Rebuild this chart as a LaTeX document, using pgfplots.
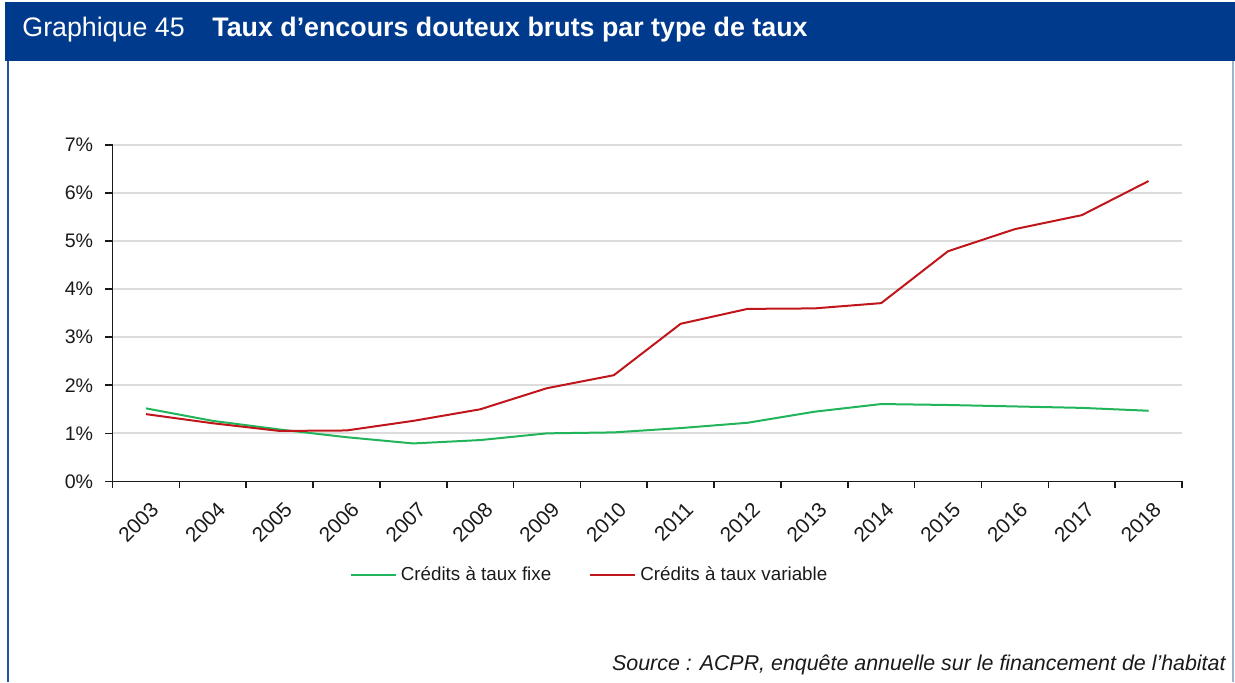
\documentclass[border=0pt]{standalone}
\usepackage{fontspec}
\setmainfont{Liberation Sans}
\usepackage{xcolor}
\usepackage{pgfplots}
\pgfplotsset{compat=1.18}
\definecolor{hdrblue}{HTML}{003A8C}
\definecolor{frameblue}{HTML}{2653A6}
\definecolor{frameright}{HTML}{9DB3D6}
\definecolor{fixgreen}{HTML}{21B45A}
\definecolor{varred}{HTML}{C0161B}
\definecolor{gridgray}{HTML}{DCDCDC}
\definecolor{txt}{HTML}{1A1A1A}

\begin{document}
\begin{tikzpicture}
\path[use as bounding box] (0,0) rectangle (617.5pt,341pt);
% header and frame
\fill[hdrblue] (2.5pt,340pt) rectangle (617.5pt,310.5pt);
\draw[frameblue,line width=1pt] (4pt,310.5pt) -- (4pt,0pt);
\draw[frameright,line width=1pt] (616.5pt,310.5pt) -- (616.5pt,0pt);
\node[anchor=west,text=white,font=\fontsize{13.4}{15}\selectfont,inner sep=0pt] at (11pt,326pt) {Graphique 45};
\node[anchor=west,text=white,font=\fontsize{13.4}{15}\selectfont\bfseries,inner sep=0pt] at (106pt,326pt) {Taux d’encours douteux bruts par type de taux};

\begin{axis}[
    at={(56.25pt,100.3pt)}, anchor=south west,
    scale only axis,
    width=534.75pt, height=168.2pt,
    xmin=-0.5, xmax=15.5,
    ymin=0, ymax=7,
    axis x line*=bottom,
    axis y line*=left,
    axis line style={txt, line width=0.8pt},
    xtick={0,...,15},
    xticklabels={2003,2004,2005,2006,2007,2008,2009,2010,2011,2012,2013,2014,2015,2016,2017,2018},
    major x tick style={draw=none},
    minor xtick={-0.5,0.5,...,15.5},
    minor tick length=3.5pt,
    minor x tick style={txt, line width=0.8pt},
    ytick={0,...,7},
    yticklabels={0\%,1\%,2\%,3\%,4\%,5\%,6\%,7\%},
    major tick length=3.5pt,
    tick align=outside,
    y tick style={txt, line width=0.8pt},
    ymajorgrids=true,
    grid style={gridgray, line width=0.9pt},
    ticklabel style={font=\fontsize{9.8}{11}\selectfont, text=txt},
    xticklabel style={rotate=45, anchor=north east, inner sep=1pt,
        font=\fontsize{10.4}{11}\selectfont, xshift=-2pt, yshift=-4.5pt},
    yticklabel style={inner sep=1pt, xshift=-5pt},
    legend style={at={(0.447,-0.278)}, anchor=center, draw=none, fill=none,
        legend columns=2, font=\fontsize{9.4}{11}\selectfont, text=txt,
        /tikz/every even column/.append style={column sep=17pt}},
    legend image code/.code={\draw[#1] (0pt,0pt) -- (22.5pt,0pt);},
]
\addplot[fixgreen, line width=1pt] coordinates {
 (0,1.52) (1,1.26) (2,1.08) (3,0.92) (4,0.79) (5,0.86) (6,1.00) (7,1.02)
 (8,1.11) (9,1.22) (10,1.45) (11,1.61) (12,1.59) (13,1.56) (14,1.53) (15,1.47)};
\addlegendentry{Crédits à taux fixe}
\addplot[varred, line width=1pt] coordinates {
 (0,1.40) (1,1.21) (2,1.05) (3,1.06) (4,1.26) (5,1.50) (6,1.94) (7,2.21)
 (8,3.28) (9,3.59) (10,3.60) (11,3.71) (12,4.79) (13,5.25) (14,5.54) (15,6.25)};
\addlegendentry{Crédits à taux variable}
\end{axis}

\node[anchor=east,font=\fontsize{10.7}{12}\selectfont\itshape,text=txt,inner sep=0pt] at (613pt,8.5pt) {Source : ACPR, enquête annuelle sur le financement de l’habitat};
\end{tikzpicture}
\end{document}
